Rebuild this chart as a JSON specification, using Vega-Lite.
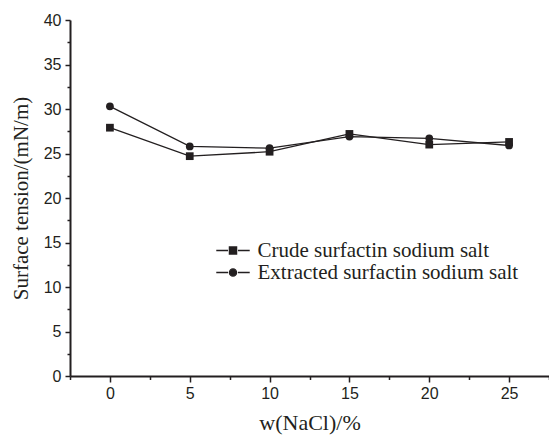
{
  "$schema": "https://vega.github.io/schema/vega-lite/v6.json",
  "autosize": {"type": "none"},
  "padding": {"left": 70, "top": 20, "right": 0, "bottom": 59},
  "width": 479,
  "height": 356,
  "background": "white",
  "config": {
    "view": {"stroke": null},
    "axis": {
      "domainColor": "#231f20",
      "domainWidth": 2,
      "tickColor": "#231f20",
      "tickWidth": 1.5,
      "grid": false,
      "labelFont": "Liberation Sans",
      "labelFontSize": 16,
      "labelColor": "#231f20",
      "titleFont": "Liberation Serif",
      "titleFontSize": 21,
      "titleFontWeight": "normal",
      "titleColor": "#231f20"
    }
  },
  "data": {
    "values": [
      {"w": 0, "t": 27.9, "series": "Crude surfactin sodium salt"},
      {"w": 5, "t": 24.7, "series": "Crude surfactin sodium salt"},
      {"w": 10, "t": 25.2, "series": "Crude surfactin sodium salt"},
      {"w": 15, "t": 27.2, "series": "Crude surfactin sodium salt"},
      {"w": 20, "t": 26.0, "series": "Crude surfactin sodium salt"},
      {"w": 25, "t": 26.3, "series": "Crude surfactin sodium salt"},
      {"w": 0, "t": 30.3, "series": "Extracted surfactin sodium salt"},
      {"w": 5, "t": 25.8, "series": "Extracted surfactin sodium salt"},
      {"w": 10, "t": 25.6, "series": "Extracted surfactin sodium salt"},
      {"w": 15, "t": 26.9, "series": "Extracted surfactin sodium salt"},
      {"w": 20, "t": 26.7, "series": "Extracted surfactin sodium salt"},
      {"w": 25, "t": 25.9, "series": "Extracted surfactin sodium salt"}
    ]
  },
  "layer": [
    {
      "mark": {"type": "line", "color": "#231f20", "strokeWidth": 1.3},
      "encoding": {
        "x": {
          "field": "w", "type": "quantitative",
          "scale": {"domain": [-2.5, 27.5], "nice": false, "zero": false},
          "axis": {"orient": "bottom", "values": [0, 5, 10, 15, 20, 25], "tickSize": 6, "labelPadding": 3, "title": "w(NaCl)/%", "titleFontSize": 22, "titlePadding": 11}
        },
        "y": {
          "field": "t", "type": "quantitative",
          "scale": {"domain": [0, 40], "nice": false, "zero": true},
          "axis": {"orient": "left", "values": [0, 5, 10, 15, 20, 25, 30, 35, 40], "tickSize": 5, "labelPadding": 4, "title": "Surface tension/(mN/m)", "titlePadding": 12}
        },
        "detail": {"field": "series"}
      }
    },
    {
      "mark": {"type": "point", "filled": true, "color": "#231f20", "opacity": 1, "size": 60},
      "encoding": {
        "x": {
          "field": "w", "type": "quantitative",
          "scale": {"domain": [-2.5, 27.5], "nice": false, "zero": false},
          "axis": {"orient": "bottom", "values": [-2.5, 2.5, 7.5, 12.5, 17.5, 22.5, 27.5], "tickSize": 3.5, "labels": false, "domain": false, "title": null}
        },
        "y": {
          "field": "t", "type": "quantitative",
          "scale": {"domain": [0, 40], "nice": false, "zero": true},
          "axis": {"orient": "left", "values": [2.5, 7.5, 12.5, 17.5, 22.5, 27.5, 32.5, 37.5], "tickSize": 3, "labels": false, "domain": false, "title": null}
        },
        "shape": {
          "field": "series", "type": "nominal",
          "scale": {"range": ["square", "circle"]},
          "legend": null
        }
      }
    },
    {
      "transform": [{"filter": "false"}],
      "mark": {"type": "point", "filled": false, "color": "#231f20", "fill": "#231f20", "stroke": "#231f20", "strokeWidth": 1.3, "opacity": 1, "fillOpacity": 1, "strokeOpacity": 1},
      "encoding": {
        "shape": {
          "field": "series", "type": "nominal",
          "scale": {
            "domain": ["Crude surfactin sodium salt", "Extracted surfactin sodium salt"],
            "range": ["M-2.09,0H-0.62M0.62,0H2.09M-0.45,-0.45H0.45V0.45H-0.45Z", "M-2.09,0H-0.62M0.62,0H2.09M0.45,0A0.45,0.45,0,1,1,-0.45,0A0.45,0.45,0,1,1,0.45,0Z"]
          },
          "legend": {
            "title": null,
            "orient": "none",
            "legendX": 152.5,
            "legendY": 220,
            "symbolSize": 256,
            "symbolStrokeWidth": 1.3,
            "labelFont": "Liberation Serif",
            "labelFontSize": 21,
            "labelColor": "#231f20",
            "labelLimit": 400,
            "labelOffset": 14,
            "rowPadding": 0
          }
        }
      }
    }
  ],
  "resolve": {"axis": {"x": "independent", "y": "independent"}, "scale": {"shape": "independent"}}
}
